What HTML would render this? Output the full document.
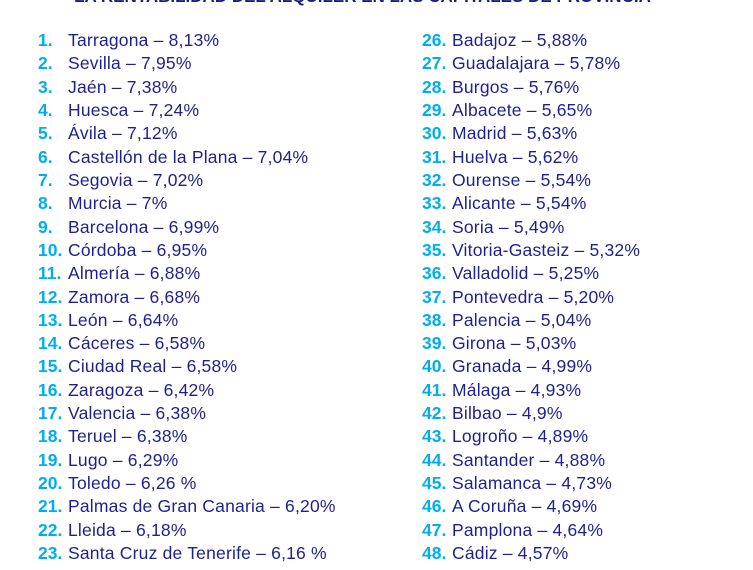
<!DOCTYPE html>
<html><head><meta charset="utf-8"><style>
body{margin:0;width:753px;height:570px;background:#fff;overflow:hidden;position:relative;font-family:"Liberation Sans",sans-serif;}
.t{position:absolute;left:0;width:725px;text-align:center;top:-12px;font-weight:bold;font-size:17px;color:#1b1d7a;white-space:nowrap;line-height:17px}
.r{position:absolute;font-size:17.5px;letter-spacing:0.2px;color:#1f1f8f;white-space:nowrap;line-height:20px}
.r b{position:absolute;color:#00aeef;font-weight:bold;letter-spacing:0}
</style></head><body>
<div class="t">LA RENTABILIDAD DEL ALQUILER EN LAS CAPITALES DE PROVINCIA</div>
<div id="c"></div>
<script>
var L=["Tarragona – 8,13%","Sevilla – 7,95%","Jaén – 7,38%","Huesca – 7,24%","Ávila – 7,12%","Castellón de la Plana – 7,04%","Segovia – 7,02%","Murcia – 7%","Barcelona – 6,99%","Córdoba – 6,95%","Almería – 6,88%","Zamora – 6,68%","León – 6,64%","Cáceres – 6,58%","Ciudad Real – 6,58%","Zaragoza – 6,42%","Valencia – 6,38%","Teruel – 6,38%","Lugo – 6,29%","Toledo – 6,26 %","Palmas de Gran Canaria – 6,20%","Lleida – 6,18%","Santa Cruz de Tenerife – 6,16 %"];
var R=["Badajoz – 5,88%","Guadalajara – 5,78%","Burgos – 5,76%","Albacete – 5,65%","Madrid – 5,63%","Huelva – 5,62%","Ourense – 5,54%","Alicante – 5,54%","Soria – 5,49%","Vitoria-Gasteiz – 5,32%","Valladolid – 5,25%","Pontevedra – 5,20%","Palencia – 5,04%","Girona – 5,03%","Granada – 4,99%","Málaga – 4,93%","Bilbao – 4,9%","Logroño – 4,89%","Santander – 4,88%","Salamanca – 4,73%","A Coruña – 4,69%","Pamplona – 4,64%","Cádiz – 4,57%"];
var h="";
for(var i=0;i<23;i++){var y=30+i*23.32;
h+='<div class="r" style="left:68px;top:'+y+'px"><b style="left:-30px">'+(i+1)+'.</b>'+L[i]+'</div>';
h+='<div class="r" style="left:452px;top:'+y+'px"><b style="left:-30px">'+(i+26)+'.</b>'+R[i]+'</div>';}
document.getElementById("c").innerHTML=h;
</script>
</body></html>
